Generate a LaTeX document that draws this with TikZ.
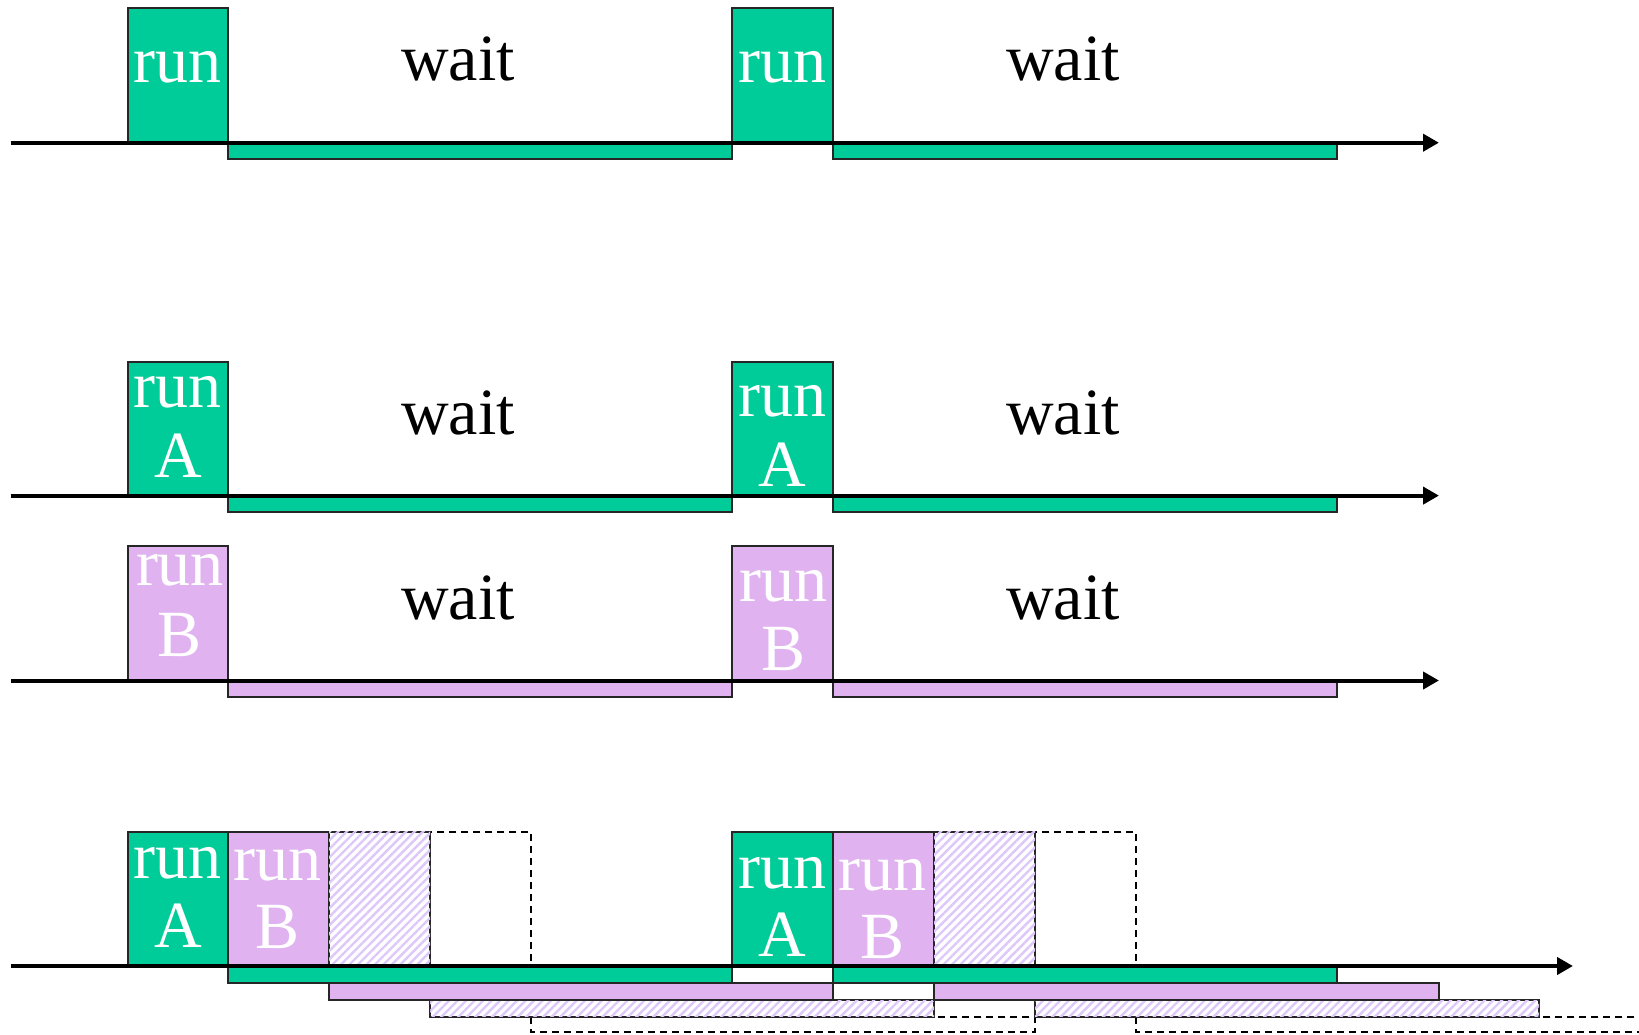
\documentclass[tikz,border=0pt]{standalone}
\usepackage{fontspec}
\setmainfont{Liberation Serif}
\usetikzlibrary{arrows.meta,patterns.meta}
\definecolor{grn}{RGB}{0,204,153}
\definecolor{pur}{RGB}{224,179,240}
\definecolor{hatchc}{RGB}{222,200,250}
\tikzset{
  gbox/.style={fill=grn,draw=black!85,line width=2pt},
  pbox/.style={fill=pur,draw=black!85,line width=2pt},
  hbox/.style={fill=white,postaction={pattern={Lines[angle=45,distance=6pt,line width=2.4pt]},pattern color=hatchc},draw=black!85,line width=2pt},
  dbox/.style={draw=black,dashed,dash pattern=on 7pt off 5pt,line width=1.6pt},
  axis/.style={line width=4pt,-{Triangle[length=16pt,width=17pt]}},
  wt/.style={font=\fontsize{66}{70}\selectfont,anchor=base,text=black,inner sep=0pt},
  rt/.style={font=\fontsize{66}{70}\selectfont,anchor=base,text=white,inner sep=0pt}
}
\begin{document}
\begin{tikzpicture}[x=1pt,y=-1pt]
\useasboundingbox (0,0) rectangle (1639,1034);
\clip (0,0) rectangle (1639,1034);
% ---------- Row 1 ----------
\draw[gbox] (127.5,7.5) rectangle (228.3,142.7);
\draw[gbox] (731.9,7.5) rectangle (833.1,142.7);
\draw[gbox] (228.3,142.7) rectangle (731.9,159.2);
\draw[gbox] (833.1,142.7) rectangle (1337.3,159.2);
\coordinate (a1s) at (10.5,142.7);
\coordinate (a1e) at (1439,142.7);
\draw[axis] (a1s) -- (a1e);
\node[rt] (r1a) at (177.9,82) {run};
\node[rt] (r1b) at (782.5,82) {run};
\node[wt] (w1a) at (458,80) {wait};
\node[wt] (w1b) at (1063,80) {wait};
% ---------- Row 2 ----------
\draw[gbox] (127.5,361.5) rectangle (228.3,495.6);
\draw[gbox] (731.9,361.5) rectangle (833.1,495.6);
\draw[gbox] (228.3,495.6) rectangle (731.9,512.3);
\draw[gbox] (833.1,495.6) rectangle (1337.3,512.3);
\coordinate (a2s) at (10.5,495.6);
\coordinate (a2e) at (1439,495.6);
\draw[axis] (a2s) -- (a2e);
\node[rt] (r2a) at (177.9,407) {run};
\node[rt] (r2aA) at (177.9,477.5) {A};
\node[rt] (r2b) at (782.5,416.7) {run};
\node[rt] (r2bA) at (782.5,486.7) {A};
\node[wt] (w2a) at (458,434) {wait};
\node[wt] (w2b) at (1063,434) {wait};
% ---------- Row 3 ----------
\draw[pbox] (127.5,546) rectangle (228.3,680.5);
\draw[pbox] (731.9,546) rectangle (833.1,680.5);
\draw[pbox] (228.3,680.5) rectangle (731.9,697);
\draw[pbox] (833.1,680.5) rectangle (1337.3,697);
\coordinate (a3s) at (10.5,680.5);
\coordinate (a3e) at (1439,680.5);
\draw[axis] (a3s) -- (a3e);
\node[rt] (r3a) at (180,585) {run};
\node[rt] (r3aB) at (180,656) {B};
\node[rt] (r3b) at (783.5,601.7) {run};
\node[rt] (r3bB) at (783.5,670) {B};
\node[wt] (w3a) at (458,619) {wait};
\node[wt] (w3b) at (1063,619) {wait};
% ---------- Row 4 ----------
% lanes below axis
\draw[dbox] (531,1016.8) rectangle (1035,1032);
\draw[dbox] (1136,1016.8) rectangle (1700,1032);
\draw[hbox] (430,1000) rectangle (934,1016.8);
\draw[hbox] (1035,1000) rectangle (1539,1016.8);
\draw[pbox] (329,983.2) rectangle (833.2,1000);
\draw[pbox] (934,983.2) rectangle (1438.5,1000);
\draw[gbox] (228.3,966) rectangle (732.3,983.2);
\draw[gbox] (833.2,966) rectangle (1337.3,983.2);
% boxes above axis
\draw[dbox] (430,831.8) rectangle (531,966);
\draw[dbox] (1035,831.8) rectangle (1136,966);
\draw[gbox] (127.5,831.8) rectangle (228.3,966);
\draw[pbox] (228.3,831.8) rectangle (329,966);
\draw[hbox] (329,831.8) rectangle (430,966);
\draw[gbox] (732.3,831.8) rectangle (833.2,966);
\draw[pbox] (833.2,831.8) rectangle (934,966);
\draw[hbox] (934,831.8) rectangle (1035,966);
\coordinate (a4s) at (10.5,966);
\coordinate (a4e) at (1573,966);
\draw[axis] (a4s) -- (a4e);
\node[rt] (r4a) at (177.9,878) {run};
\node[rt] (r4aA) at (177.9,947.7) {A};
\node[rt] (r4b) at (277.5,880) {run};
\node[rt] (r4bB) at (277.5,948.3) {B};
\node[rt] (r4c) at (782.5,888.3) {run};
\node[rt] (r4cA) at (782.5,956.7) {A};
\node[rt] (r4d) at (882.5,890) {run};
\node[rt] (r4dB) at (882.5,958.3) {B};
\end{tikzpicture}
\end{document}
